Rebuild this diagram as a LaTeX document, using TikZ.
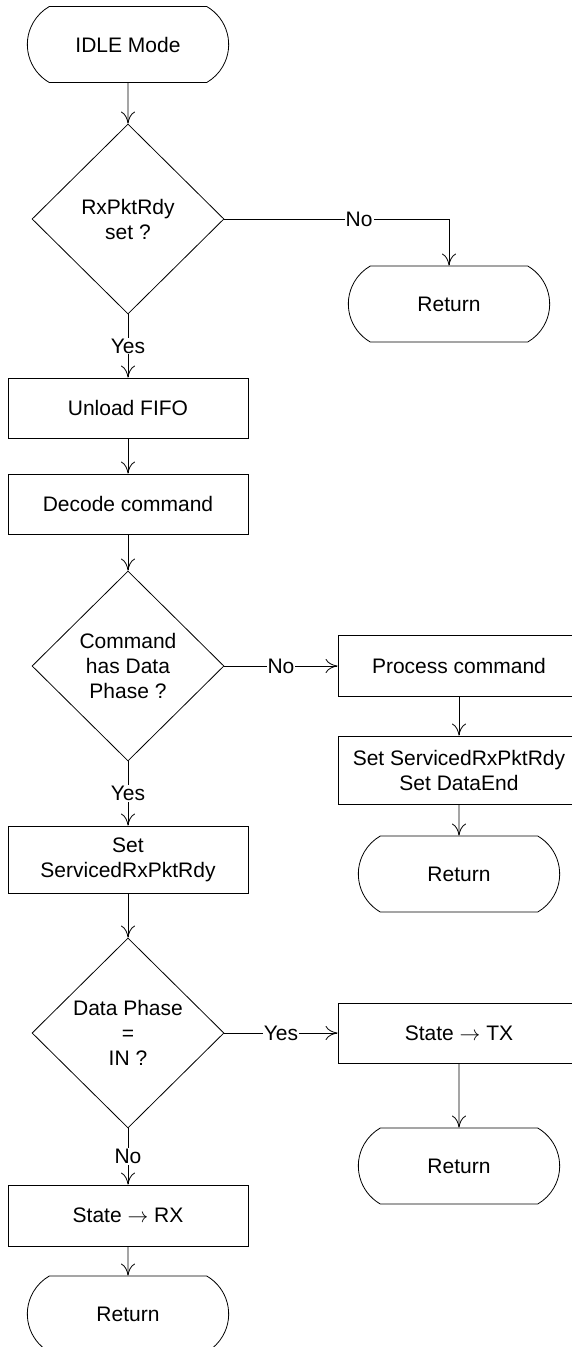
\documentclass[tikz,border=0pt]{standalone}
\usepackage{fontspec}
\setmainfont{Liberation Sans}
\usepackage{tikz}
\usetikzlibrary{shapes.geometric,shapes.misc,arrows.meta}

\begin{document}
\begin{tikzpicture}[x=1pt,y=-1pt,line width=0.8pt,font=\fontsize{21}{25}\selectfont]
\useasboundingbox (0,0) rectangle (572,1347);
\tikzstyle{boite}=[draw,rectangle,minimum width=240pt,minimum height=60pt,align=center,inner sep=2pt]
\tikzstyle{test}=[draw,diamond,minimum width=192pt,minimum height=190pt,inner sep=0pt,align=center]
\tikzstyle{fin}=[draw,rounded rectangle,rounded rectangle arc length=120,minimum width=208pt,minimum height=76pt]
\tikzstyle{fleche}=[->,>={Computer Modern Rightarrow[length=12pt,width=14pt]}]
\tikzstyle{rep}=[fill=white,inner sep=1pt]

\node[fin] (A)at(128,44.5) {IDLE Mode};
\node[test] (B)at(128,219) {RxPktRdy\\set ?};
\node[fin] (C)at(449,304) {Return};
\node[boite] (D)at(128,408) {Unload FIFO};
\node[boite] (E)at(128,504) {Decode command};
\node[test] (F)at(128,666) {Command\\has Data\\Phase ?};
\node[boite,minimum width=242pt,minimum height=61pt] (G)at(459,666) {Process command};
\node[boite,minimum width=242pt,minimum height=68pt] (H)at(459,770) {Set ServicedRxPktRdy\\Set DataEnd};
\node[fin] (I)at(459,874) {Return};
\node[boite,minimum height=67pt] (J)at(128,859.5) {Set\\ServicedRxPktRdy};
\node[test] (K)at(128,1033) {Data Phase\\=\\IN ?};
\node[boite,minimum width=242pt] (L)at(459,1033) {State $\rightarrow$ TX};
\node[fin] (M)at(459,1166) {Return};
\node[boite,minimum height=61pt] (N)at(128,1215.5) {State $\rightarrow$ RX};
\node[fin] (O)at(128,1314) {Return};

\draw[fleche] (A)--(B);
\draw[fleche] (B)-|(C)
	node[rep,pos=0.3]{No};
\draw[fleche] (B)--(D)
	node[rep,midway]{Yes};
\draw[fleche] (D)--(E);
\draw[fleche] (E)--(F);
\draw[fleche] (F)--(G)
	node[rep,midway]{No};
\draw[fleche] (G)--(H);
\draw[fleche] (H)--(I);
\draw[fleche] (F)--(J)
	node[rep,midway]{Yes};
\draw[fleche] (J)--(K);
\draw[fleche] (K)--(L)
	node[rep,midway]{Yes};
\draw[fleche] (L)--(M);
\draw[fleche] (K)--(N)
	node[rep,midway]{No};
\draw[fleche] (N)--(O);
\end{tikzpicture}
\end{document}
